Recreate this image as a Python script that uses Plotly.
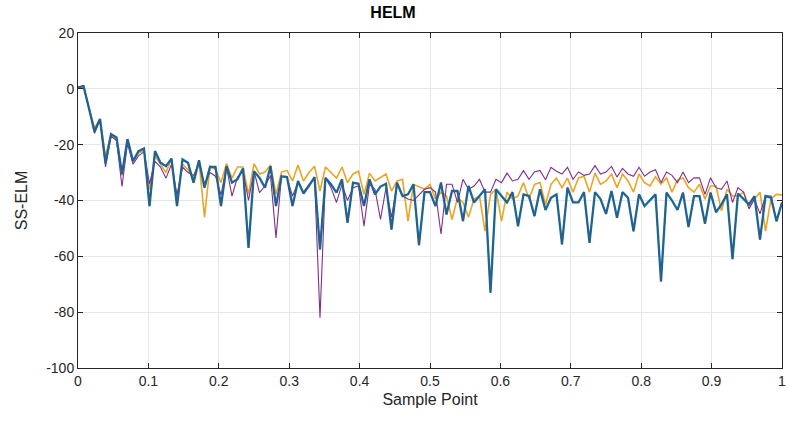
import plotly.graph_objects as go

N = 129
x_vals = [k / 128 for k in range(N)]

blue = [0.5, 1.0, -7, -15.3, -10.8, -26.6, -16.2, -17.4, -30.5, -18, -25.9, -22.3, -21.4, -42, -22.3, -26.5, -27.7, -25, -42, -25.3, -26.5,
        -33.6, -25.6, -35.4, -28, -28, -42, -27.7, -33.6, -32.4, -28.5, -57, -29.5, -31.9, -35.4, -27.7, -42, -31.3, -31.6, -42, -33, -37.5, -34.8,
        -31.6, -57.5, -31.9, -34.2, -37.2, -32.4, -48, -33.6, -34, -42, -32.4, -37.8, -35, -34, -50.4, -33.6, -38.4, -37.8, -34.2, -56, -37,
        -37, -42, -33.6, -45, -36.6, -36.6, -47.4, -34.8, -40.7, -38.4, -36, -73, -36, -38.4, -40.7, -37, -49.2, -37.8, -38.4, -45.6,
        -36, -43.4, -39, -37.8, -55.7, -35.4, -40.7, -40.7, -37, -55.2, -37, -39.5, -44.8, -36.6, -46.2, -37, -39, -51, -37.8, -42, -40, -37.8,
        -69, -37.2, -40, -43.4, -37.2, -49.5, -38.4, -38.4, -48.3, -37.2, -44.2, -41.4, -37.8, -61, -37.5, -39.5, -41.4, -38.4, -54, -38.4, -39, -47.4, -40.7]

orange = [0.5, 1, -7, -14, -11, -24, -16.5, -18, -31, -18, -26, -23, -22, -36, -24, -27, -30, -25, -40, -27, -29,
          -32, -26, -46, -27.7, -28.9, -33.6, -26.8, -32, -28, -28, -37.8, -26.8, -30.5, -29.8, -27.3, -37.8, -29.8, -29.2, -33, -27.3, -33, -30,
          -27.7, -36.6, -28, -30.2, -32, -28, -33.6, -30.5, -29.5, -37.8, -30.2, -33, -31.9, -30.5, -36.6, -33, -32.4, -47.4, -34.2, -35, -36,
          -34.2, -39.5, -37, -38.4, -46.8, -39, -40.7, -46, -39.5, -38.4, -51, -37.8, -36, -47.4, -37, -39.5, -38.4, -33.6, -39.5, -34.2,
          -33.6, -41.5, -34.2, -32, -35.4, -32, -37, -31.9, -31.3, -37, -30.2, -34.2, -33, -30.5, -35.4, -30.5, -33, -37, -30.5, -33.6, -34.8, -31.5,
          -34.2, -31.9, -37, -32.6, -31.9, -35.4, -37, -34.2, -39.5, -34.8, -34.8, -43.7, -36, -38.4, -38.4, -37, -42, -39.5, -37, -51, -39.5, -37.8, -38]

purple = [0.5, 1, -7, -16, -11, -28, -17, -18.5, -35, -19.5, -27, -24, -22.5, -34, -26, -28, -32, -27, -38, -28, -30,
          -31, -27, -34, -30, -31.3, -38, -28, -38.4, -31.6, -29.5, -40, -29.5, -37.2, -34.8, -31, -53.4, -31.3, -31.9, -38.4, -33.6, -37, -34.2,
          -31.9, -82, -31.9, -35.4, -40.7, -34.2, -40, -35.4, -34.8, -49.2, -34.2, -36, -46.8, -35.4, -46, -34.2, -38.4, -39.5, -40, -38, -36,
          -35.4, -37, -52, -34.2, -34.2, -40.7, -32.4, -36, -34.8, -32.4, -37, -37, -32.4, -33.6, -30.2, -33, -32.4, -29.3, -32.4, -29.8,
          -29.2, -32.6, -28.1, -29.5, -30.5, -28.1, -32.4, -29.8, -31, -30.5, -27.5, -30.5, -29.8, -27.8, -31.6, -28.5, -30.5, -31.3, -28.1, -31.3, -29.8, -29,
          -33.6, -29.8, -31, -33.6, -29.8, -33.6, -31.9, -31.9, -37.8, -31.9, -35.4, -36, -33, -40.7, -35.4, -37, -43, -39.5, -44.8, -38.4, -38.4, -47.4, -40.7]

assert len(blue) == N and len(orange) == N and len(purple) == N, (len(blue), len(orange), len(purple))

x_ticks = [0, 0.1, 0.2, 0.3, 0.4, 0.5, 0.6, 0.7, 0.8, 0.9, 1]
x_tick_labels = ["0", "0.1", "0.2", "0.3", "0.4", "0.5", "0.6", "0.7", "0.8", "0.9", "1"]
y_ticks = [-100, -80, -60, -40, -20, 0, 20]
y_tick_labels = ["-100", "-80", "-60", "-40", "-20", "0", "20"]

FONT = "Liberation Sans, Arial, sans-serif"

fig = go.Figure()
fig.add_trace(go.Scatter(x=x_vals, y=orange, mode="lines", line=dict(color="#EBA526", width=1.6), showlegend=False))
fig.add_trace(go.Scatter(x=x_vals, y=purple, mode="lines", line=dict(color="#7E2F8E", width=1.1), showlegend=False))
fig.add_trace(go.Scatter(x=x_vals, y=blue, mode="lines", line=dict(color="#0072BD", width=2.3), showlegend=False))
fig.add_trace(go.Scatter(x=x_vals, y=blue, mode="lines", line=dict(color="#4A5560", width=1.0), showlegend=False))

axis_common = dict(
    showline=True, linecolor="#262626", linewidth=1, mirror="ticks",
    ticks="inside", ticklen=5, tickcolor="#262626",
    showgrid=True, gridcolor="#E6E6E6", gridwidth=1, zeroline=False,
    tickfont=dict(family=FONT, size=14, color="#262626"),
    ticklabeloverflow="allow", automargin=False,
)

fig.update_layout(
    width=786, height=427,
    margin=dict(l=78, r=4, t=33, b=59),
    paper_bgcolor="white", plot_bgcolor="white",
    title=dict(text="<b>HELM</b>", x=0.5, xanchor="center", y=0.972, yanchor="middle",
               font=dict(family=FONT, size=16, color="#000000")),
    xaxis=dict(range=[0, 1], tickvals=x_ticks, ticktext=x_tick_labels,
               title=dict(text="Sample Point", standoff=6,
                          font=dict(family=FONT, size=16, color="#262626")),
               **axis_common),
    yaxis=dict(range=[-100, 20], tickvals=y_ticks, ticktext=y_tick_labels,
               title=dict(text="SS-ELM", standoff=14,
                          font=dict(family=FONT, size=16, color="#262626")),
               **axis_common),
)

fig.write_html("out.html")
